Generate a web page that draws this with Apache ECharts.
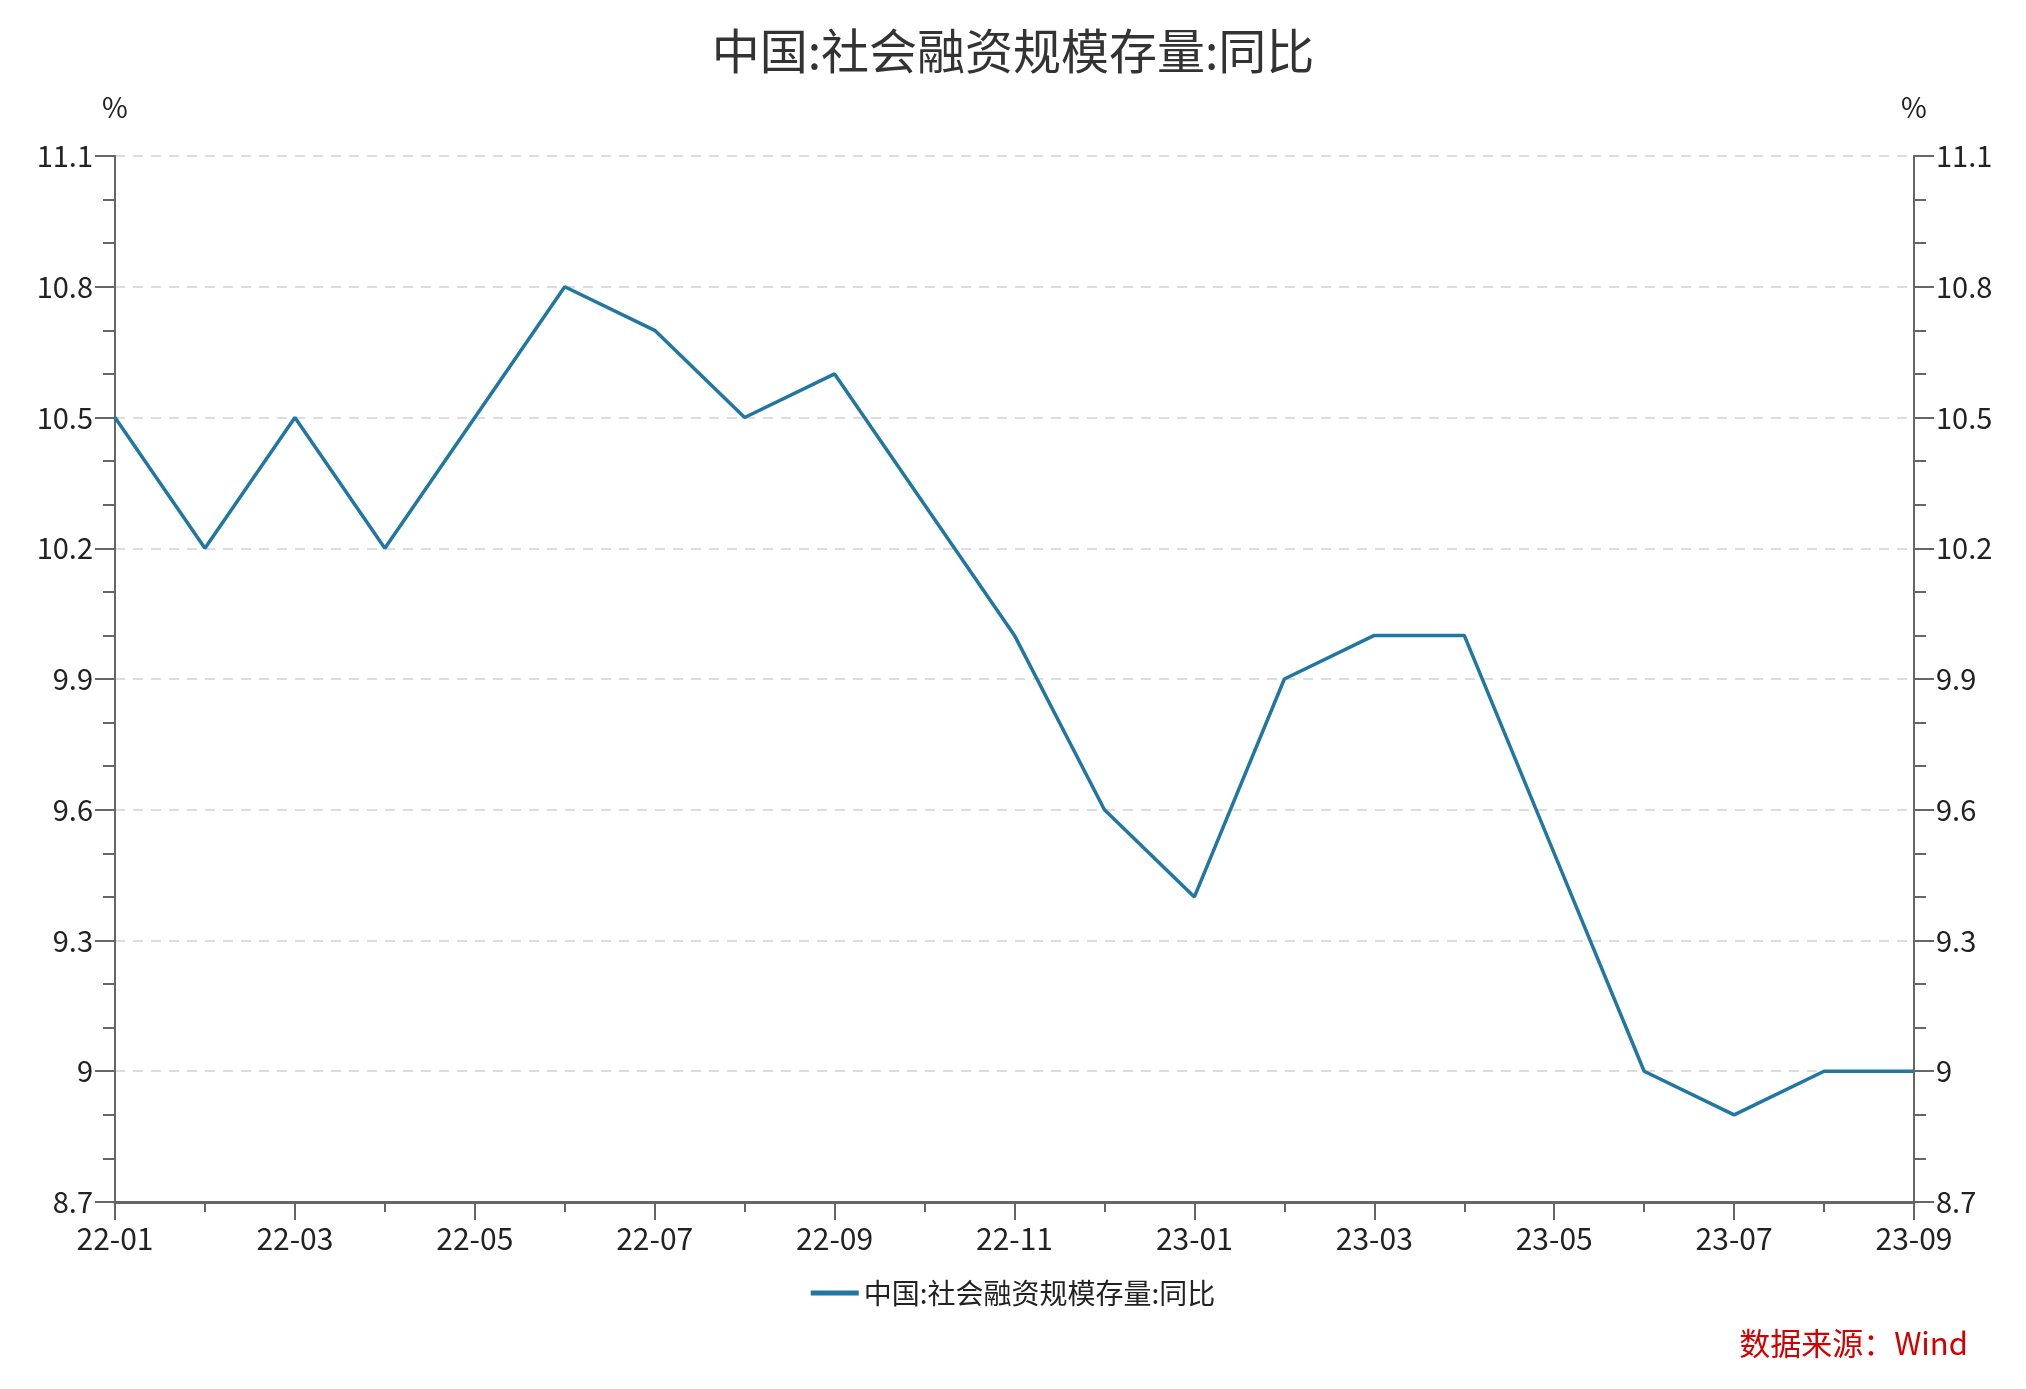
<!DOCTYPE html>
<html>
<head>
<meta charset="utf-8">
<script src="https://cdn.jsdelivr.net/npm/echarts@6/dist/echarts.min.js"></script>
<style>
html,body{margin:0;padding:0;background:#fff;}
#chart{width:2026px;height:1389px;}
</style>
</head>
<body>
<div id="chart"></div>
<script>
var titleText = '中国:社会融资规模存量:同比';
var seriesName = '中国:社会融资规模存量:同比';
var sourceText = '数据来源：Wind';
var categories = ['22-01','22-02','22-03','22-04','22-05','22-06','22-07','22-08','22-09','22-10','22-11','22-12','23-01','23-02','23-03','23-04','23-05','23-06','23-07','23-08','23-09'];
var values = [10.5,10.2,10.5,10.2,10.5,10.8,10.7,10.5,10.6,10.3,10.0,9.6,9.4,9.9,10.0,10.0,9.5,9.0,8.9,9.0,9.0];
var yMin = 8.7, yMax = 11.1, yInterval = 0.3;

var FONT = '"Noto Sans CJK SC", "Noto Sans", sans-serif';
var lineColor = '#1f77a2';
var axisColor = '#666666';
var labelColor = '#222222';

function yAxisCfg(pos) {
  return {
    type: 'value', position: pos, min: yMin, max: yMax, interval: yInterval,
    name: '%', nameLocation: 'end', nameGap: 35,
    nameTextStyle: {color: labelColor, fontSize: 28, fontFamily: FONT, align: 'center'},
    axisLine: {show: true, lineStyle: {color: axisColor, width: 2}},
    axisTick: {show: true, length: 20, lineStyle: {color: axisColor, width: 2}},
    minorTick: {show: true, splitNumber: 3, length: 12, lineStyle: {color: axisColor, width: 2}},
    axisLabel: {color: labelColor, fontSize: 29, fontFamily: FONT, margin: 22,
      formatter: function (v) { return +v.toFixed(1) + ''; }},
    splitLine: {show: pos === 'left', lineStyle: {color: '#dddddd', type: [10, 8], width: 2}},
    minorSplitLine: {show: false}
  };
}

var chart = echarts.init(document.getElementById('chart'));
chart.setOption({
  backgroundColor: '#ffffff',
  animation: false,
  title: {text: titleText, left: 'center', top: 22,
    textStyle: {fontSize: 48, fontWeight: 'normal', color: '#333333', fontFamily: FONT}},
  legend: {bottom: 77, left: 'center', icon: 'rect', itemWidth: 48, itemHeight: 5, itemGap: 12,
    textStyle: {fontSize: 28, color: labelColor, fontFamily: FONT},
    data: [seriesName]},
  grid: {left: 115, right: 112, top: 156, bottom: 187},
  xAxis: [{
    type: 'category', data: categories, boundaryGap: false, position: 'bottom',
    axisLine: {show: true, lineStyle: {color: axisColor, width: 3}},
    axisTick: {show: true, interval: 1, length: 18, lineStyle: {color: axisColor, width: 2}},
    axisLabel: {interval: 1, color: labelColor, fontSize: 30, fontFamily: FONT, margin: 22},
    splitLine: {show: false}
  }, {
    type: 'category', data: categories, boundaryGap: false, position: 'bottom',
    axisLine: {show: false},
    axisTick: {show: true, interval: 0, length: 10, lineStyle: {color: axisColor, width: 2}},
    axisLabel: {show: false},
    splitLine: {show: false}
  }],
  yAxis: [yAxisCfg('left'), yAxisCfg('right')],
  graphic: [{type: 'text', right: 58, bottom: 30,
    style: {text: sourceText, fontSize: 31, fill: '#d40000', fontFamily: FONT}}],
  series: [{
    name: seriesName, type: 'line', data: values, xAxisIndex: 0, yAxisIndex: 0,
    symbol: 'none', lineStyle: {color: lineColor, width: 3.5}, itemStyle: {color: lineColor}
  }]
});
</script>
</body>
</html>
